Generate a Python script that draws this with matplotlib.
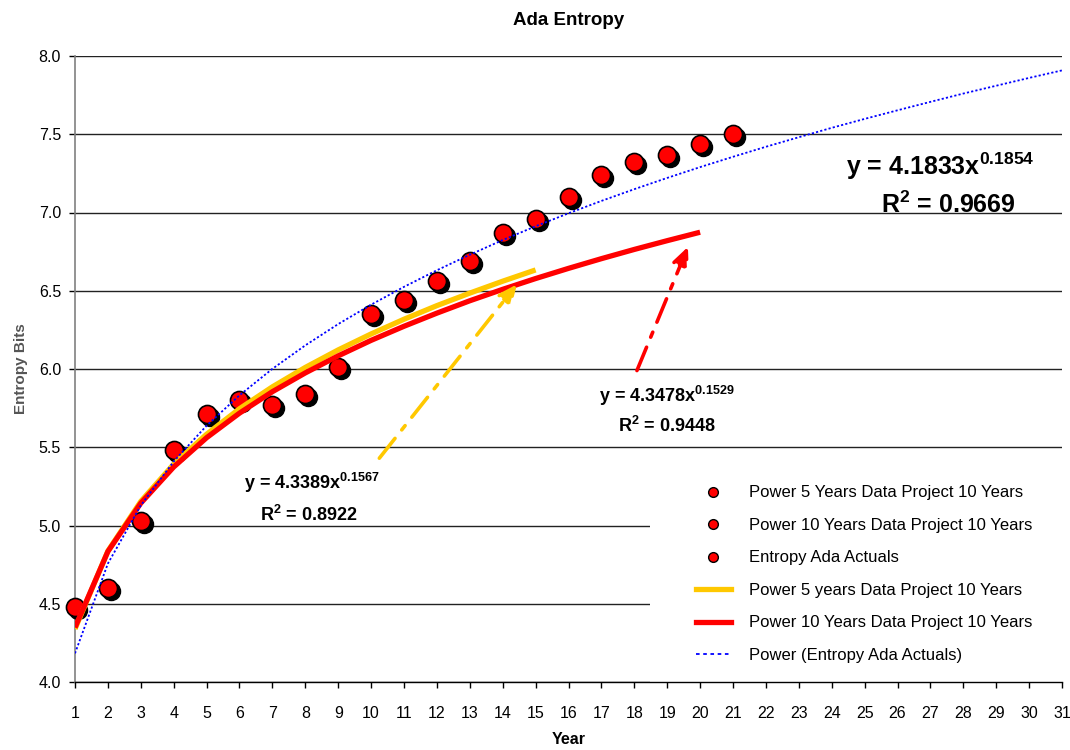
import matplotlib
matplotlib.use("Agg")
import matplotlib.pyplot as plt
from matplotlib.lines import Line2D
from matplotlib.patches import Rectangle
from matplotlib.transforms import offset_copy

plt.rcParams['font.family'] = ['Liberation Sans', 'DejaVu Sans']
plt.rcParams['mathtext.fontset'] = 'custom'
plt.rcParams['mathtext.rm'] = 'Liberation Sans'
plt.rcParams['mathtext.bf'] = 'Liberation Sans:bold'

# ---------------- data ----------------
years_actual = list(range(1, 22))
entropy_actual = [4.48, 4.60, 5.03, 5.48, 5.71, 5.80, 5.77, 5.84, 6.01, 6.35, 6.44,
                  6.56, 6.69, 6.87, 6.96, 7.10, 7.24, 7.32, 7.37, 7.44, 7.50]

years_p5 = list(range(1, 16))
power5_proj = [4.339, 4.837, 5.154, 5.392, 5.583, 5.746, 5.886, 6.010, 6.122, 6.224,
               6.318, 6.405, 6.485, 6.561, 6.633]

years_p10 = list(range(1, 21))
power10_proj = [4.348, 4.834, 5.143, 5.374, 5.561, 5.718, 5.855, 5.975, 6.084, 6.183,
                6.273, 6.357, 6.436, 6.509, 6.578, 6.643, 6.705, 6.764, 6.820, 6.874]

years_trend = list(range(1, 32))
power_trend = [4.183, 4.757, 5.128, 5.409, 5.638, 5.832, 6.001, 6.151, 6.287, 6.411,
               6.525, 6.631, 6.730, 6.824, 6.912, 6.995, 7.074, 7.149, 7.221, 7.290,
               7.356, 7.420, 7.481, 7.541, 7.598, 7.653, 7.707, 7.760, 7.810, 7.860,
               7.908]

legend_labels = ["Power 5 Years Data Project 10 Years",
                 "Power 10 Years Data Project 10 Years",
                 "Entropy Ada Actuals",
                 "Power 5 years Data Project 10 Years",
                 "Power 10 Years Data Project 10 Years",
                 "Power (Entropy Ada Actuals)"]

eq5 = ("4.3389", "0.1567", "0.8922")
eq10 = ("4.3478", "0.1529", "0.9448")
eq_tr = ("4.1833", "0.1854", "0.9669")

YELLOW = '#FFC800'
RED = '#FF0000'
BLUE = '#0000FF'

# ---------------- figure ----------------
fig = plt.figure(figsize=(10.7, 7.5), dpi=100)
ax = fig.add_axes([75/1070, 68/750, 987/1070, 626/750])

ax.set_xlim(1, 31)
ax.set_ylim(4.0, 8.0)
ax.set_xticks(range(1, 32))
ax.set_yticks([4.0 + 0.5*i for i in range(9)])
ax.set_yticklabels([f"{4.0 + 0.5*i:.1f}" for i in range(9)])

ax.set_axisbelow(True)
ax.yaxis.grid(True, color='#222222', lw=1.0, zorder=0)
for s in ['top', 'right']:
    ax.spines[s].set_visible(False)
ax.spines['left'].set_color('#808080')
ax.spines['left'].set_linewidth(1.2)
ax.spines['bottom'].set_color('black')
ax.spines['bottom'].set_linewidth(1.0)
ax.tick_params(axis='y', direction='out', length=4, width=1, labelsize=11.5, pad=6)
ax.tick_params(axis='x', direction='out', length=4, width=1, labelsize=11.5, pad=13)

# white box under legend (hides gridlines)
ax.add_patch(Rectangle((0.5826, 0.0), 0.4174, 0.338, transform=ax.transAxes,
                       facecolor='white', edgecolor='none', zorder=0.8))

# markers with shadow
shadow_tr = offset_copy(ax.transData, fig=fig, x=3, y=-3, units='dots')
ax.plot(years_actual, entropy_actual, 'o', color='black', ms=13, mec='black',
        transform=shadow_tr, zorder=3, clip_on=False)
ax.plot(years_actual, entropy_actual, 'o', color=RED, ms=13, mec='black', mew=1.2,
        zorder=3.1, clip_on=False)

# curves
ax.plot(years_p5, power5_proj, color=YELLOW, lw=3.8, zorder=4, solid_capstyle='butt')
ax.plot(years_p10, power10_proj, color=RED, lw=3.8, zorder=4.1, solid_capstyle='butt')
ax.plot(years_trend, power_trend, color=BLUE, lw=1.3, ls=(0, (1.2, 1.2)), zorder=5)

# arrows
arrow_style = '-|>,head_length=1.1,head_width=0.5'
ax.annotate("", xy=(14.43, 6.54), xytext=(10.25, 5.43),
            arrowprops=dict(arrowstyle=arrow_style,
                            color=YELLOW, lw=2.6, linestyle=(0, (7, 3, 1.5, 3)),
                            shrinkA=0, shrinkB=0), zorder=6)
ax.annotate("", xy=(19.63, 6.78), xytext=(18.08, 5.99),
            arrowprops=dict(arrowstyle=arrow_style,
                            color=RED, lw=2.6, linestyle=(0, (7, 3, 1.5, 3)),
                            shrinkA=0, shrinkB=0), zorder=6)

# equation labels
def eq_label(xy_y, xy_r, eq, size):
    a, b, r2 = eq
    ax.text(*xy_y, f"y = {a}x" + r"$^{\mathbf{" + b + r"}}$", fontsize=size,
            fontweight='bold', ha='center', va='center', zorder=7)
    ax.text(*xy_r, r"R$^{\mathbf{2}}$" + f" = {r2}", fontsize=size,
            fontweight='bold', ha='center', va='center', zorder=7)

eq_label((8.2, 5.27), (8.1, 5.07), eq5, 13)
eq_label((19.0, 5.83), (19.0, 5.635), eq10, 13)
eq_label((27.3, 7.295), (27.55, 7.05), eq_tr, 18)

# legend
handles = [
    Line2D([], [], ls='none', marker='o', color=RED, mec='black', ms=7),
    Line2D([], [], ls='none', marker='o', color=RED, mec='black', ms=7),
    Line2D([], [], ls='none', marker='o', color=RED, mec='black', ms=7),
    Line2D([], [], color=YELLOW, lw=3.8),
    Line2D([], [], color=RED, lw=3.8),
    Line2D([], [], color=BLUE, lw=1.3, ls=(0, (2, 2))),
]
ax.legend(handles, legend_labels, loc='upper left', bbox_to_anchor=(0.629, 0.314),
          frameon=False, fontsize=12, handlelength=2.1, handletextpad=1.1,
          labelspacing=1.05, borderpad=0, borderaxespad=0, numpoints=1)

ax.set_title("Ada Entropy", fontsize=13.5, fontweight='bold', pad=22)
ax.set_xlabel("Year", fontsize=11.5, fontweight='bold', labelpad=8)
ax.set_ylabel("Entropy Bits", fontsize=11, fontweight='bold', color='#555555', labelpad=8)

fig.savefig("out.png", dpi=100)
